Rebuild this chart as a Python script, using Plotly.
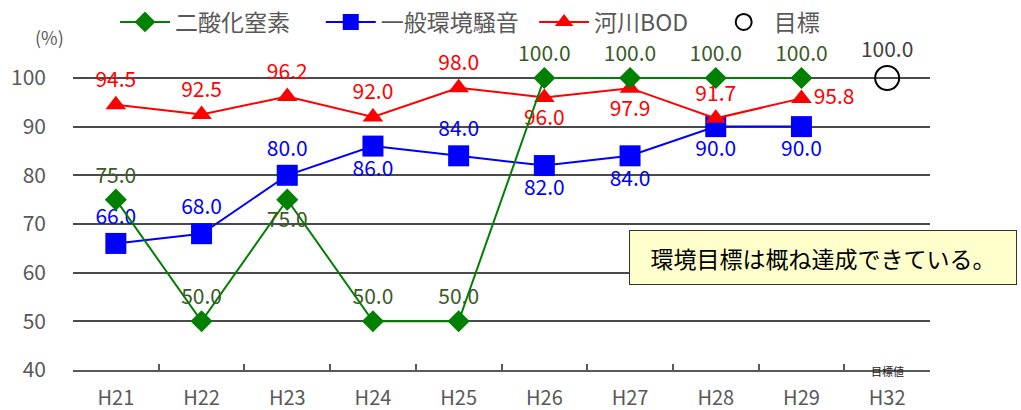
import plotly.graph_objects as go

categories = ["H21", "H22", "H23", "H24", "H25", "H26", "H27", "H28", "H29", "H32"]
years = categories[:9]
no2 = [75.0, 50.0, 75.0, 50.0, 50.0, 100.0, 100.0, 100.0, 100.0]
noise = [66.0, 68.0, 80.0, 86.0, 84.0, 82.0, 84.0, 90.0, 90.0]
bod = [94.5, 92.5, 96.2, 92.0, 98.0, 96.0, 97.9, 91.7, 95.8]
target_x = ["H32"]
target = [100.0]

no2_pos = ["top center", "top center", "bottom center", "top center", "top center",
           "top center", "top center", "top center", "top center"]
noise_pos = ["top center", "top center", "top center", "bottom center", "top center",
             "bottom center", "bottom center", "bottom center", "bottom center"]
bod_pos = ["top center", "top center", "top center", "top center", "top center",
           "bottom center", "bottom center", "top center", "middle right"]

W, H = 1021, 410
L, R, T, B = 73, 930, 39, 370
pw, ph = R - L, B - T


def px(x):
    return (x - L) / pw


def py(y):
    return (B - y) / ph


FONT = "Noto Sans CJK JP, Noto Sans, sans-serif"
GRAY = "#595959"
LBL = 21
NB = "\u00a0"

fig = go.Figure()
fig.add_trace(go.Scatter(
    x=years, y=noise, name="一般環境騒音" + NB * 2, mode="lines+markers+text",
    line=dict(color="#0000FF", width=2),
    marker=dict(symbol="square", size=21, color="#0000FF"),
    text=[f"{v:.1f}" for v in noise], textposition=noise_pos,
    textfont=dict(color="#0000FF", size=LBL, family=FONT),
    cliponaxis=False, legendrank=2))
fig.add_trace(go.Scatter(
    x=years, y=bod, name="河川BOD" + NB * 4, mode="lines+markers+text",
    line=dict(color="#FF0000", width=2),
    marker=dict(symbol="triangle-up", size=18, color="#FF0000"),
    text=[f"{v:.1f}" for v in bod], textposition=bod_pos,
    textfont=dict(color="#FF0000", size=LBL, family=FONT),
    cliponaxis=False, legendrank=3))
fig.add_trace(go.Scatter(
    x=years, y=no2, name="二酸化窒素" + NB * 5, mode="lines+markers+text",
    line=dict(color="#008000", width=2),
    marker=dict(symbol="diamond", size=17, color="#008000"),
    text=[f"{v:.1f}" for v in no2], textposition=no2_pos,
    textfont=dict(color="#3A5A28", size=LBL, family=FONT),
    cliponaxis=False, legendrank=1))
fig.add_trace(go.Scatter(
    x=target_x, y=target, name="目標", mode="markers+text",
    marker=dict(symbol="circle-open", size=24, color="#000000", line=dict(width=2)),
    text=[f"{v:.1f}" for v in target], textposition="top center",
    textfont=dict(color="#404040", size=LBL, family=FONT),
    cliponaxis=False, legendrank=4))

fig.add_annotation(xref="paper", yref="paper", x=px(33), y=py(22), text="(%)",
                   showarrow=False, font=dict(size=18, color=GRAY, family=FONT))
fig.add_annotation(xref="x", yref="paper", x="H32", y=py(381), text="目標値",
                   showarrow=False, font=dict(size=11, color="#222222", family=FONT))
fig.add_annotation(xref="paper", yref="paper", x=px(629), y=py(230),
                   xanchor="left", yanchor="top", width=384, height=51,
                   text="環境目標は概ね達成できている。", showarrow=False,
                   bgcolor="#FFFFCC", bordercolor="#333333", borderwidth=1,
                   font=dict(size=23, color="#000000", family=FONT))

fig.update_layout(
    width=W, height=H,
    margin=dict(l=L, r=W - R, t=T, b=H - B, autoexpand=False),
    paper_bgcolor="white", plot_bgcolor="white",
    font=dict(family=FONT, color=GRAY),
    legend=dict(orientation="h", x=px(115), y=py(22), xanchor="left", yanchor="middle",
                font=dict(size=23, color=GRAY, family=FONT),
                itemwidth=50, traceorder="normal", bgcolor="rgba(0,0,0,0)"),
    xaxis=dict(type="category", categoryorder="array", categoryarray=categories,
               range=[-0.5, 9.5], showgrid=False, showline=True, linecolor="#595959",
               linewidth=2, ticks="inside", tickson="boundaries", ticklen=6,
               tickcolor="#595959", tickwidth=1.5,
               tickfont=dict(size=20, color=GRAY, family=FONT), ticklabelstandoff=9),
    yaxis=dict(range=[40, 108], tickvals=[40, 50, 60, 70, 80, 90, 100], showline=False,
               showgrid=True, gridcolor="#4A4A4A", gridwidth=2, zeroline=False,
               tickfont=dict(size=21, color=GRAY, family=FONT), ticklabelstandoff=26),
)

fig.write_html("out.html")
